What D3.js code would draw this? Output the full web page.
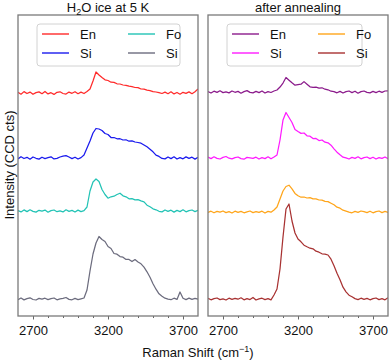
<!DOCTYPE html>
<html>
<head>
<meta charset="utf-8">
<script src="https://cdn.jsdelivr.net/npm/d3@7"></script>
<style>
  body { margin: 0; background: #fff; }
  text { font-family: "Liberation Sans", Arial, sans-serif; fill: #111; }
</style>
</head>
<body>
<script>
var width = 392,
    height = 362;

// sampling grid (cm-1)
var wavenumber = [2600, 2620, 2640, 2660, 2680, 2700, 2720, 2740, 2760, 2780,
                  2800, 2820, 2840, 2860, 2880, 2900, 2920, 2940, 2960, 2980,
                  3000, 3020, 3040, 3060, 3080, 3100, 3120, 3140, 3160, 3180,
                  3200, 3220, 3240, 3260, 3280, 3300, 3320, 3340, 3360, 3380,
                  3400, 3420, 3440, 3460, 3480, 3500, 3520, 3540, 3560, 3580,
                  3600, 3620, 3640, 3660, 3680, 3700, 3720, 3740, 3760, 3780, 3800];

var titles = ["H2O ice at 5 K", "after annealing"];
var labels = ["En", "Si", "Fo", "Si"];
var iceColors = ["#ff2a2a", "#1a1aee", "#22c3b5", "#6c6c7e"];
var annColors = ["#8b1a8b", "#ff1aff", "#ffa51a", "#a83232"];

// vertical stacking offsets (same units as intensities)
var iceOffsets = [2230, 1580, 1050, 170];
var annOffsets = [2240, 1580, 1040, 170];

// H2O ice at 5 K
var enIce = [8,-12,14,-5,9,-13,4,11,-7,15,
             -9,3,-14,7,12,-5,-11,9,-3,13,
             -7,9,-5,15,40,120,210,180,155,132,
             125,108,106,92,90,80,77,68,64,55,
             54,40,38,28,24,13,10,3,-5,9,
             -7,12,-9,5,-12,7,-4,11,-7,13,40];
var siIce1 = [-9,13,-5,7,-12,10,-3,-11,8,-6,
              4,12,-9,-4,10,18,24,10,-6,8,
              -10,4,30,100,170,250,295,290,275,245,
              235,205,205,192,193,180,182,168,172,160,
              155,148,130,112,88,62,28,16,-4,-9,
              10,-6,12,-10,4,-8,11,-4,8,-11,6];
var foIce = [5,-9,11,-6,12,-4,-11,7,-2,9,
             -12,4,10,-7,2,-9,12,-4,6,-10,
             9,-6,4,40,200,290,320,295,215,165,
             128,142,148,165,178,152,142,122,124,112,
             113,102,92,58,42,22,12,-3,-9,10,
             -4,8,-11,6,-6,12,-8,4,10,-6,8];
var siIce2 = [-7,10,-9,4,12,-5,-10,6,-2,8,
              -6,4,10,-8,2,6,15,-4,-8,6,
              -6,2,10,90,280,450,560,625,595,575,
              525,505,455,448,424,418,396,396,374,394,
              370,352,318,272,218,152,98,52,28,8,
              -2,-7,8,-4,70,8,-6,9,-4,6,-2];

// after annealing
var enAnn = [5,-10,8,-4,12,-6,2,-9,10,-3,
             6,-12,4,14,-4,-9,6,-6,10,-10,
             4,-5,10,20,50,90,145,118,92,68,
             74,78,104,78,52,46,48,38,42,28,
             22,8,4,-8,6,-10,4,10,-6,8,
             -12,4,10,-4,-9,6,-6,8,-4,10,12];
var siAnn1 = [9,-6,12,-4,-10,6,15,-2,-8,4,
              10,-6,-12,6,2,-4,8,-10,4,-6,
              12,-8,10,30,180,380,455,405,355,285,
              265,246,250,222,218,194,196,174,180,158,
              152,128,92,58,32,8,2,-10,6,-4,
              12,-8,4,10,-6,8,-10,4,-4,10,-6];
var foAnn = [-4,8,-8,6,-2,10,-6,4,-10,8,
             -4,6,-8,2,10,-6,4,-4,8,-10,
             6,-2,20,50,130,210,255,268,232,186,
             162,148,150,140,144,132,132,120,118,106,
             104,88,72,48,38,18,8,-2,-8,6,
             -4,10,4,-6,8,-8,4,10,-6,6,-4];
var siAnn2 = [6,-8,4,10,-6,2,-10,8,-4,6,
              -2,12,-8,4,-6,15,-10,2,8,-6,
              4,-8,40,100,300,620,900,950,780,660,
              600,572,538,522,508,502,478,468,452,448,
              440,398,332,258,192,118,72,38,22,4,
              -6,8,-4,6,-8,4,10,-6,4,-8,12];

var majorTicks = [2700, 3200, 3700];
var minorTicks = [2800, 2900, 3000, 3100, 3300, 3400, 3500, 3600];

var panels = [
  {x: 18, title: titles[0], series: [enIce, siIce1, foIce, siIce2], colors: iceColors, offsets: iceOffsets,
   legend: {x: 19, w: 143}},
  {x: 208, title: titles[1], series: [enAnn, siAnn1, foAnn, siAnn2], colors: annColors, offsets: annOffsets,
   legend: {x: 19, w: 135}}
];

var pw = 180, ph = 301, marginTop = 15;

var x = d3.scaleLinear().domain([2600, 3800]).range([0, pw]);
var y = d3.scaleLinear().domain([0, 3010]).range([ph, 0]);

var svg = d3.select("body").append("svg")
    .attr("width", width)
    .attr("height", height);

svg.append("defs").append("clipPath")
    .attr("id", "clip")
  .append("rect")
    .attr("width", pw)
    .attr("height", ph);

panels.forEach(function(p, pi) {
  var g = svg.append("g").attr("transform", "translate(" + p.x + "," + marginTop + ")");

  var lines = g.append("g").attr("clip-path", "url(#clip)");
  p.series.forEach(function(vals, i) {
    var line = d3.line()
        .x(function(d, j) { return x(wavenumber[j]); })
        .y(function(d) { return y(d + p.offsets[i]); });
    lines.append("path")
        .datum(vals)
        .attr("d", line)
        .attr("fill", "none")
        .attr("stroke", p.colors[i])
        .attr("stroke-width", 1.25)
        .attr("stroke-linejoin", "round");
  });

  // minor + major ticks
  var minor = g.append("g")
      .attr("transform", "translate(0," + ph + ")")
      .call(d3.axisBottom(x).tickValues(minorTicks).tickSize(2).tickFormat(""));
  var major = g.append("g")
      .attr("transform", "translate(0," + ph + ")")
      .call(d3.axisBottom(x).tickValues(majorTicks).tickSize(3.5).tickFormat(d3.format("d")));
  [minor, major].forEach(function(a) {
    a.select(".domain").remove();
    a.selectAll("line").attr("stroke", "#555").attr("stroke-width", 0.9);
  });
  major.selectAll("text")
      .attr("y", 10)
      .style("font-size", "13px")
      .style("font-family", "'Liberation Sans', Arial, sans-serif")
      .attr("fill", "#111");

  g.append("rect")
      .attr("width", pw)
      .attr("height", ph)
      .attr("fill", "none")
      .attr("stroke", "#7a7a7a")
      .attr("stroke-width", 1.3);

  // title
  var t = g.append("text")
      .attr("x", pw / 2)
      .attr("y", -3)
      .attr("text-anchor", "middle")
      .style("font-size", "13px");
  if (pi === 0) {
    t.append("tspan").text("H");
    t.append("tspan").attr("dy", 3).style("font-size", "9px").text("2");
    t.append("tspan").attr("dy", -3).text("O ice at 5 K");
  } else {
    t.text(p.title);
  }

  // legend
  var L = p.legend;
  var lg = g.append("g").attr("transform", "translate(" + L.x + ",9)");
  lg.append("rect")
      .attr("width", L.w)
      .attr("height", 42)
      .attr("rx", 3)
      .attr("fill", "#fff")
      .attr("fill-opacity", 0.85)
      .attr("stroke", "#d2d2d2");
  labels.forEach(function(lab, i) {
    var col = Math.floor(i / 2), row = i % 2;
    var lx = 5 + col * 86, ly = 10 + row * 19;
    lg.append("line")
        .attr("x1", lx).attr("x2", lx + 27)
        .attr("y1", ly).attr("y2", ly)
        .attr("stroke", p.colors[i])
        .attr("stroke-width", 1.4);
    lg.append("text")
        .attr("x", lx + 38)
        .attr("y", ly + 4.5)
        .style("font-size", "13px")
        .text(lab);
  });
});

// axis labels
svg.append("text")
    .attr("transform", "translate(14,165) rotate(-90)")
    .attr("text-anchor", "middle")
    .style("font-size", "13px")
    .text("Intensity (CCD cts)");

var xl = svg.append("text")
    .attr("x", 198)
    .attr("y", 357)
    .attr("text-anchor", "middle")
    .style("font-size", "13px");
xl.append("tspan").text("Raman Shift (cm");
xl.append("tspan").attr("dy", -5).style("font-size", "9px").text("\u22121");
xl.append("tspan").attr("dy", 5).text(")");
</script>
</body>
</html>
